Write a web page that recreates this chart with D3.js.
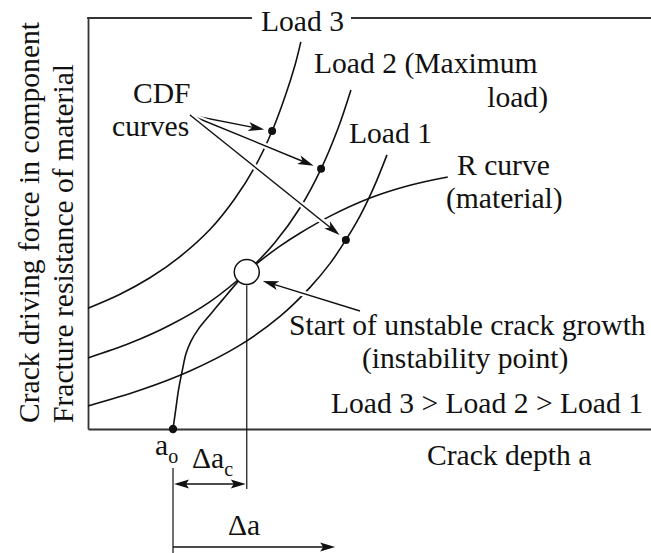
<!DOCTYPE html>
<html>
<head>
<meta charset="utf-8">
<script src="https://cdn.jsdelivr.net/npm/d3@7"></script>
<style>
  html, body { margin: 0; padding: 0; background: #fff; }
  svg { display: block; }
  svg text { font-family: "Liberation Serif", "Times New Roman", Times, serif; fill: #111; }
</style>
</head>
<body>
<svg id="chart" width="651" height="553"></svg>
<script>
// Crack depth a (x) against crack driving force / fracture resistance (y), arbitrary units.
const load3 = [[0.00, 2.94], [0.57, 3.28], [1.10, 3.68], [1.63, 4.19], [2.17, 4.86], [2.61, 5.61],
               [2.97, 6.39], [3.27, 7.25], [3.50, 8.09], [3.68, 8.87], [3.78, 9.42]];
const load2 = [[0.00, 1.73], [0.75, 2.09], [1.46, 2.53], [2.17, 3.10], [2.82, 3.82], [3.32, 4.54],
               [3.77, 5.39], [4.14, 6.33], [4.44, 7.31], [4.67, 8.25]];
const load1 = [[0.00, 0.56], [0.92, 0.94], [1.81, 1.41], [2.70, 2.04], [3.41, 2.74], [3.94, 3.44],
               [4.30, 4.03], [4.58, 4.60], [4.83, 5.18], [5.08, 5.89], [5.31, 6.67]];
const rCurve = [[1.51, 0.00], [1.56, 0.49], [1.61, 0.97], [1.68, 1.46], [1.74, 1.83], [1.83, 2.14],
                [1.96, 2.43], [2.18, 2.80], [2.40, 3.16], [2.66, 3.58], [2.82, 3.82], [3.02, 4.05],
                [3.41, 4.45], [3.77, 4.77], [4.30, 5.18], [5.01, 5.62], [5.72, 5.93], [6.39, 6.13]];
// CDF points on load 3, load 2 and load 1
const cdfPoints = [[3.27, 7.25], [4.14, 6.33], [4.58, 4.60]];
const initialCrack = [1.51, 0.00];     // a_o
const instabilityPoint = [2.82, 3.82]; // tangency of load 2 and the R curve
const crackGrowthEnd = 4.39;           // end of the Δa arrow

const curveLabels = ["Load 3", "Load 2 (Maximum", "load)", "Load 1", "R curve", "(material)"];
const noteLabels = ["CDF", "curves", "Start of unstable crack growth", "(instability point)",
                    "Load 3 > Load 2 > Load 1"];
const axisLabels = ["Crack depth a", "Crack driving force in component", "Fracture resistance of material"];

const svg = d3.select("#chart");
const W = 651, H = 553;
const x = d3.scaleLinear().domain([0, 10]).range([88, 651]);
const y = d3.scaleLinear().domain([0, 10]).range([429, 18]);

const FS = 29.6;
const FONT = "'Liberation Serif', 'Times New Roman', Times, serif";
const ink = "#111";

// frame: left and bottom axes without ticks, top border broken by the "Load 3" label
svg.append("g").attr("transform", `translate(${x(0)},0)`)
  .call(d3.axisLeft(y).tickValues([]).tickSizeOuter(0))
  .call(g => g.select(".domain").attr("stroke", "#333").attr("stroke-width", 1.8));
svg.append("g").attr("transform", `translate(0,${y(0)})`)
  .call(d3.axisBottom(x).tickValues([]).tickSizeOuter(0))
  .call(g => g.select(".domain").attr("stroke", "#333").attr("stroke-width", 1.8));
const topY = y(10);
svg.append("line").attr("x1", x(0) - 0.9).attr("x2", 252).attr("y1", topY).attr("y2", topY)
  .attr("stroke", "#333").attr("stroke-width", 1.8);
svg.append("line").attr("x1", 351).attr("x2", W).attr("y1", topY).attr("y2", topY)
  .attr("stroke", "#333").attr("stroke-width", 1.8);

// curves
const line = d3.line().x(d => x(d[0])).y(d => y(d[1])).curve(d3.curveCatmullRom.alpha(0.5));
const curves = svg.append("g").attr("fill", "none").attr("stroke", ink).attr("stroke-width", 1.6);
[load3, load2, load1, rCurve].forEach(data => curves.append("path").attr("d", line(data)));

// filled arrowhead with a notched back
function arrowHead(g, tip, from, len = 16, half = 4.6, notch = 4) {
  const dx = tip[0] - from[0], dy = tip[1] - from[1];
  const L = Math.hypot(dx, dy), ux = dx / L, uy = dy / L, nx = -uy, ny = ux;
  const p = [
    tip,
    [tip[0] - ux * len + nx * half, tip[1] - uy * len + ny * half],
    [tip[0] - ux * (len - notch), tip[1] - uy * (len - notch)],
    [tip[0] - ux * len - nx * half, tip[1] - uy * len - ny * half]
  ];
  g.append("path").attr("d", "M" + p.map(q => q.join(",")).join("L") + "Z").attr("fill", ink).attr("stroke", "none");
}

// leader arrow with a white halo so crossed curves show a small gap
function leader(g, from, tip) {
  const dx = tip[0] - from[0], dy = tip[1] - from[1], L = Math.hypot(dx, dy);
  const stop = [tip[0] - dx / L * 10, tip[1] - dy / L * 10];
  g.append("line").attr("x1", from[0]).attr("y1", from[1]).attr("x2", stop[0]).attr("y2", stop[1])
    .attr("stroke", "#fff").attr("stroke-width", 6);
  g.append("line").attr("x1", from[0]).attr("y1", from[1]).attr("x2", stop[0]).attr("y2", stop[1])
    .attr("stroke", ink).attr("stroke-width", 1.4);
  arrowHead(g, tip, from);
}

const notes = svg.append("g");
// CDF leaders from the "CDF curves" note to each CDF point
const cdfOrigin = [190, 115];
cdfPoints.forEach(pt => {
  const c = [x(pt[0]), y(pt[1])];
  const dx = c[0] - cdfOrigin[0], dy = c[1] - cdfOrigin[1], L = Math.hypot(dx, dy);
  leader(notes, cdfOrigin, [c[0] - dx / L * 8, c[1] - dy / L * 8]);
});

// instability leader
const ip = [x(instabilityPoint[0]), y(instabilityPoint[1])];
leader(notes, [360, 311], [ip[0] + 16, ip[1] + 9]);

// CDF points and initial crack point
const dots = svg.append("g").attr("fill", ink);
cdfPoints.forEach(pt => dots.append("circle").attr("cx", x(pt[0])).attr("cy", y(pt[1])).attr("r", 4));
dots.append("circle").attr("cx", x(initialCrack[0])).attr("cy", y(initialCrack[1])).attr("r", 4.2);

// instability point marker
const R = 12.5;
svg.append("circle").attr("cx", ip[0]).attr("cy", ip[1]).attr("r", R)
  .attr("fill", "#fff").attr("stroke", ink).attr("stroke-width", 1.5);

// dimension lines for Δa_c and Δa
const dim = svg.append("g").attr("stroke", ink).attr("stroke-width", 1.2);
const xa0 = x(initialCrack[0]), xac = ip[0], xEnd = x(crackGrowthEnd);
dim.append("line").attr("x1", xa0).attr("x2", xa0).attr("y1", 468).attr("y2", H);
dim.append("line").attr("x1", xac).attr("x2", xac).attr("y1", ip[1] + R + 1).attr("y2", 489);
const yac = 484, yda = 547;
const arrows = svg.append("g");
arrows.append("line").attr("x1", xa0 + 10).attr("x2", xac - 10).attr("y1", yac).attr("y2", yac)
  .attr("stroke", ink).attr("stroke-width", 1.4);
arrowHead(arrows, [xa0 + 1, yac], [xac, yac], 15, 4.5, 3);
arrowHead(arrows, [xac - 1, yac], [xa0, yac], 15, 4.5, 3);
arrows.append("line").attr("x1", xa0).attr("x2", xEnd - 10).attr("y1", yda).attr("y2", yda)
  .attr("stroke", ink).attr("stroke-width", 1.4);
arrowHead(arrows, [xEnd, yda], [xa0, yda], 15, 4.5, 3);

// text
const T = svg.append("g").attr("font-size", FS).attr("font-family", FONT);
function label(txt, px, py, anchor = "start") {
  return T.append("text").attr("x", px).attr("y", py).attr("text-anchor", anchor)
    .style("font-family", FONT).text(txt);
}
label(curveLabels[0], 261, 31);
label(curveLabels[1], 314, 73);
label(curveLabels[2], 548, 107, "end");
label(curveLabels[3], 349, 143);
label(curveLabels[4], 457, 175);
label(curveLabels[5], 446, 208);
label(noteLabels[0], 133, 103);
label(noteLabels[1], 112, 136);
label(noteLabels[2], 289, 335);
label(noteLabels[3], 362, 368);
label(noteLabels[4], 331, 413);
label(axisLabels[0], 427, 465);

// a_o
const ao = label("", 155, 455);
ao.append("tspan").text("a");
ao.append("tspan").attr("font-size", 20).attr("dy", 8).text("o");
// Δa_c
const dac = label("", 192, 468);
dac.append("tspan").text("Δa");
dac.append("tspan").attr("font-size", 20).attr("dy", 8).text("c");
// Δa
label("Δa", 228, 535);

// y-axis titles
T.append("text").attr("transform", "translate(39,423) rotate(-90)").style("font-family", FONT).text(axisLabels[1]);
T.append("text").attr("transform", "translate(73,423) rotate(-90)").style("font-family", FONT).text(axisLabels[2]);
</script>
</body>
</html>
